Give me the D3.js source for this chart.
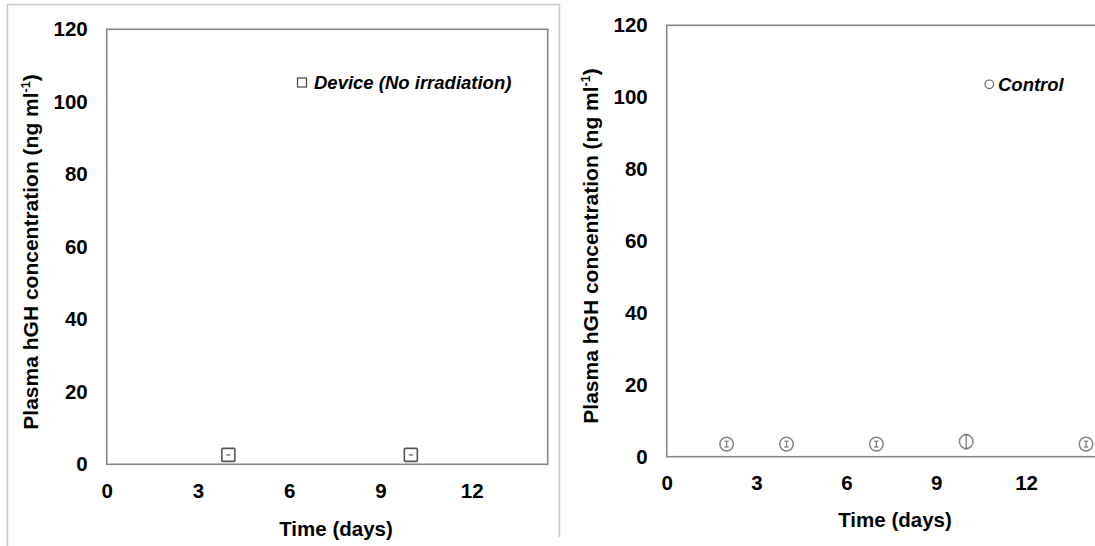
<!DOCTYPE html>
<html>
<head>
<meta charset="utf-8">
<script src="https://cdn.jsdelivr.net/npm/d3@7"></script>
<style>
  body { margin: 0; background: #fff; }
  svg { display: block; font-family: "Liberation Sans", Arial, sans-serif; }
</style>
</head>
<body>
<div id="viz"></div>
<script>
// values
const xTicks = [0, 3, 6, 9, 12];
const yTicks = [0, 20, 40, 60, 80, 100, 120];

const deviceDays = [4, 10];
const deviceValues = [2.6, 2.6];
const deviceErr = [0.3, 0.3];

const controlDays = [2, 4, 7, 10, 14];
const controlValues = [3.5, 3.5, 3.5, 4.2, 3.5];
const controlErr = [0.8, 0.8, 0.8, 2.0, 0.8];

const W = 1095, H = 546;

const svg = d3.select('#viz').append('svg')
  .attr('width', W)
  .attr('height', H);

// light frame around the left panel
svg.append('path')
  .attr('d', 'M7.5,546 V4.5 H559.5 V537')
  .attr('fill', 'none')
  .attr('stroke', '#c8c8c8')
  .attr('stroke-width', 1.5);

function panel(opts) {
  const x = d3.scaleLinear().domain([0, 14.5]).range([opts.left, opts.right]);
  const y = d3.scaleLinear().domain([0, 120]).range([opts.bottom, opts.top]);
  const g = svg.append('g');

  // plot frame
  g.append('rect')
    .attr('x', opts.left)
    .attr('y', opts.top)
    .attr('width', opts.right - opts.left)
    .attr('height', opts.bottom - opts.top)
    .attr('fill', 'none')
    .attr('stroke', '#858585')
    .attr('stroke-width', 1.6);

  const yAxis = g.append('g')
    .attr('transform', `translate(${opts.left},0)`)
    .call(d3.axisLeft(y).tickValues(yTicks).tickSize(0).tickPadding(19));
  yAxis.select('.domain').remove();
  yAxis.selectAll('text')
    .attr('font-size', 20.5).attr('font-weight', 'bold').attr('fill', '#000')
    .attr('font-family', '"Liberation Sans", Arial, sans-serif');

  const xAxis = g.append('g')
    .attr('transform', `translate(0,${opts.bottom})`)
    .call(d3.axisBottom(x).tickValues(xTicks).tickSize(0).tickPadding(19));
  xAxis.select('.domain').remove();
  xAxis.selectAll('text')
    .attr('font-size', 20.5).attr('font-weight', 'bold').attr('fill', '#000')
    .attr('font-family', '"Liberation Sans", Arial, sans-serif');

  // axis titles
  g.append('text')
    .attr('x', opts.xTitleX)
    .attr('y', opts.xTitleY)
    .attr('text-anchor', 'middle')
    .attr('font-size', 20.5).attr('font-weight', 'bold').attr('fill', '#000')
    .text('Time (days)');

  const yt = g.append('text')
    .attr('transform', `translate(${opts.yTitleX},${opts.yTitleY}) rotate(-90)`)
    .attr('text-anchor', 'middle')
    .attr('font-size', 21).attr('font-weight', 'bold').attr('fill', '#000');
  yt.append('tspan').text('Plasma hGH concentration (ng ml');
  yt.append('tspan').attr('font-size', 12.5).attr('dy', -8).text('-1');
  yt.append('tspan').attr('dy', 8).text(')');

  return { g, x, y };
}

// left panel: device without irradiation
const left = panel({
  left: 106.7, right: 547.7, top: 29.3, bottom: 464.3,
  xTitleX: 336, xTitleY: 536, yTitleX: 38, yTitleY: 252
});

const devData = deviceDays.map((d, i) => ({ day: d, v: deviceValues[i], e: deviceErr[i] }));
const dev = left.g.selectAll('.dev').data(devData).join('g').attr('class', 'dev');
dev.append('rect')
  .attr('x', d => left.x(d.day) - 6.5)
  .attr('y', d => left.y(d.v) - 6.5)
  .attr('width', 13).attr('height', 13).attr('rx', 1)
  .attr('fill', '#fff').attr('stroke', '#555').attr('stroke-width', 1.6);
dev.append('line')
  .attr('x1', d => left.x(d.day) - 2).attr('x2', d => left.x(d.day) + 2)
  .attr('y1', d => left.y(d.v)).attr('y2', d => left.y(d.v))
  .attr('stroke', '#666').attr('stroke-width', 1.4);

// legend
left.g.append('rect')
  .attr('x', 297.5).attr('y', 78).attr('width', 9).attr('height', 9)
  .attr('fill', '#fff').attr('stroke', '#444').attr('stroke-width', 1.2);
left.g.append('text')
  .attr('x', 314).attr('y', 89)
  .attr('font-size', 18.5).attr('font-weight', 'bold').attr('font-style', 'italic').attr('fill', '#000')
  .text('Device (No irradiation)');

// right panel: control
const right = panel({
  left: 666.7, right: 1101, top: 25.3, bottom: 456.7,
  xTitleX: 895, xTitleY: 527, yTitleX: 598, yTitleY: 246
});

const ctlData = controlDays.map((d, i) => ({ day: d, v: controlValues[i], e: controlErr[i] }));
const ctl = right.g.selectAll('.ctl').data(ctlData).join('g').attr('class', 'ctl');
ctl.append('circle')
  .attr('cx', d => right.x(d.day))
  .attr('cy', d => right.y(d.v))
  .attr('r', 6.8)
  .attr('fill', '#fff').attr('stroke', '#858585').attr('stroke-width', 1.5);
ctl.append('line')
  .attr('x1', d => right.x(d.day)).attr('x2', d => right.x(d.day))
  .attr('y1', d => right.y(d.v - d.e)).attr('y2', d => right.y(d.v + d.e))
  .attr('stroke', '#777').attr('stroke-width', 1.2);
['-', '+'].forEach(sign => {
  ctl.append('line')
    .attr('x1', d => right.x(d.day) - 2.2).attr('x2', d => right.x(d.day) + 2.2)
    .attr('y1', d => right.y(sign === '-' ? d.v - d.e : d.v + d.e))
    .attr('y2', d => right.y(sign === '-' ? d.v - d.e : d.v + d.e))
    .attr('stroke', '#777').attr('stroke-width', 1.2);
});

right.g.append('circle')
  .attr('cx', 989.3).attr('cy', 84.3).attr('r', 4.3)
  .attr('fill', '#fff').attr('stroke', '#666').attr('stroke-width', 1.2);
right.g.append('text')
  .attr('x', 998).attr('y', 90.5)
  .attr('font-size', 18.5).attr('font-weight', 'bold').attr('font-style', 'italic').attr('fill', '#000')
  .text('Control');
</script>
</body>
</html>
